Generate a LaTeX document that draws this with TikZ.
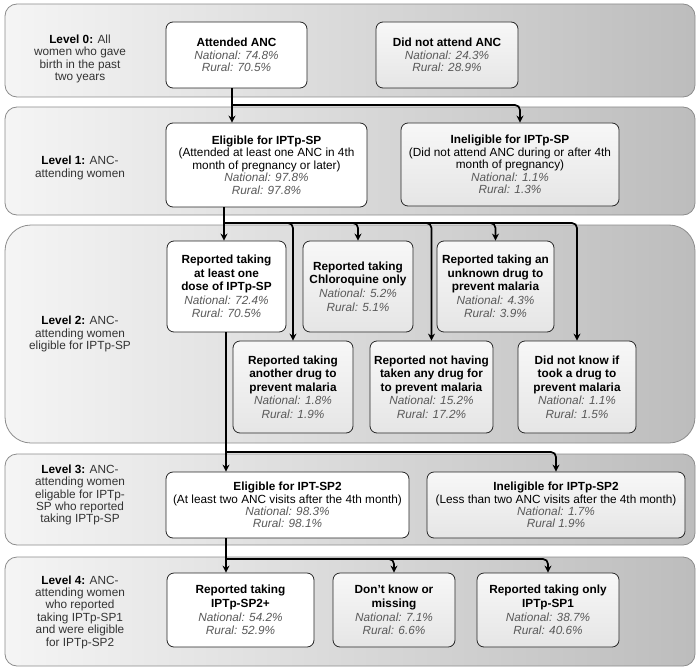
\documentclass[tikz,border=0pt]{standalone}
\usepackage{fontspec}
\setmainfont{Liberation Sans}
\usetikzlibrary{arrows.meta}
\newcommand{\nat}[1]{\textcolor{black!65}{\itshape #1}}

\begin{document}
\begin{tikzpicture}[x=1pt,y=-1pt,
	every node/.style={ font=\fontsize{11.8}{12.4}\selectfont },
	band/.style={ draw=black!45, line width=0.8pt, rounded corners=12pt, left color=black!4, right color=black!26, minimum width=690pt },
	lvl/.style={ align=center, text=black!80 },
	box/.style={ draw=black!85, line width=0.8pt, rounded corners=7pt, fill=white, align=center, inner sep=1pt },
	boxg/.style={ box, top color=black!3, bottom color=black!10 },
	tall/.style={ font=\fontsize{11.8}{13.6}\selectfont },
	flow/.style={ line width=1.7pt, rounded corners=5pt, -{Stealth[length=7pt,width=7pt]} }
]
\useasboundingbox (0,0) rectangle (700,671);

% level bands
\node at (350,50.5) (lev0) [band, minimum height=93pt] {};
\node at (350,161) (lev1) [band, minimum height=108pt] {};
\node at (350,334) (lev2) [band, minimum height=218pt, rounded corners=26pt] {};
\node at (350,499.5) (lev3) [band, minimum height=91pt] {};
\node at (350,611.5) (lev4) [band, minimum height=109pt] {};

\node at (80,59) (lab0) [lvl] {\textbf{\color{black}Level 0:} All\\women who gave\\birth in the past\\two years};
\node at (80,168) (lab1) [lvl] {\textbf{\color{black}Level 1:} ANC-\\attending women};
\node at (80,334) (lab2) [lvl] {\textbf{\color{black}Level 2:} ANC-\\attending women\\eligible for IPTp-SP};
\node at (80,495) (lab3) [lvl] {\textbf{\color{black}Level 3:} ANC-\\attending women\\eligable for IPTp-\\SP who reported\\taking IPTp-SP};
\node at (80,612) (lab4) [lvl] {\textbf{\color{black}Level 4:} ANC-\\attending women\\who reported\\taking IPTp-SP1\\and were eligible\\for IPTp-SP2};

% level 0
\node at (236.5,55) (attended) [box, minimum width=141pt, minimum height=66pt] {\textbf{Attended ANC}\\\nat{National: 74.8\%}\\\nat{Rural: 70.5\%}};
\node at (447,55) (noanc) [boxg, minimum width=142pt, minimum height=66pt] {\textbf{Did not attend ANC}\\\nat{National: 24.3\%}\\\nat{Rural: 28.9\%}};

% level 1
\node at (266.5,165) (elig1) [box, minimum width=201pt, minimum height=84pt] {\textbf{Eligible for IPTp-SP}\\(Attended at least one ANC in 4th\\month of pregnancy or later)\\\nat{National: 97.8\%}\\\nat{Rural: 97.8\%}};
\node at (510,164.5) (inelig1) [boxg, minimum width=218pt, minimum height=83pt] {\textbf{Ineligible for IPTp-SP}\\(Did not attend ANC during or after 4th\\month of pregnancy)\\\nat{National: 1.1\%}\\\nat{Rural: 1.3\%}};

% level 2
\node at (226.5,286.5) (r1) [box, tall, minimum width=119pt, minimum height=91pt] {\textbf{Reported taking}\\\textbf{at least one}\\\textbf{dose of IPTp-SP}\\\nat{National: 72.4\%}\\\nat{Rural: 70.5\%}};
\node at (358,286.5) (r2) [boxg, tall, minimum width=110pt, minimum height=91pt] {\textbf{Reported taking}\\\textbf{Chloroquine only}\\\nat{National: 5.2\%}\\\nat{Rural: 5.1\%}};
\node at (495.5,286.5) (r3) [boxg, tall, minimum width=117pt, minimum height=91pt] {\textbf{Reported taking an}\\\textbf{unknown drug to}\\\textbf{prevent malaria}\\\nat{National: 4.3\%}\\\nat{Rural: 3.9\%}};
\node at (293,387) (r4) [boxg, tall, minimum width=120pt, minimum height=92pt] {\textbf{Reported taking}\\\textbf{another drug to}\\\textbf{prevent malaria}\\\nat{National: 1.8\%}\\\nat{Rural: 1.9\%}};
\node at (431.5,387) (r5) [boxg, tall, minimum width=123pt, minimum height=92pt] {\textbf{Reported not having}\\\textbf{taken any drug for}\\\textbf{to prevent malaria}\\\nat{National: 15.2\%}\\\nat{Rural: 17.2\%}};
\node at (577,387) (r6) [boxg, tall, minimum width=118pt, minimum height=92pt] {\textbf{Did not know if}\\\textbf{took a drug to}\\\textbf{prevent malaria}\\\nat{National: 1.1\%}\\\nat{Rural: 1.5\%}};

% level 3
\node at (287.5,505) (elig3) [box, minimum width=243pt, minimum height=66pt] {\textbf{Eligible for IPT-SP2}\\(At least two ANC visits after the 4th month)\\\nat{National: 98.3\%}\\\nat{Rural: 98.1\%}};
\node at (556,505) (inelig3) [boxg, minimum width=258pt, minimum height=66pt] {\textbf{Ineligible for IPTp-SP2}\\(Less than two ANC visits after the 4th month)\\\nat{National: 1.7\%}\\\nat{Rural 1.9\%}};

% level 4
\node at (240.5,610) (sp2p) [box, tall, minimum width=147pt, minimum height=74pt] {\textbf{Reported taking}\\\textbf{IPTp-SP2+}\\\nat{National: 54.2\%}\\\nat{Rural: 52.9\%}};
\node at (394,610) (dknow) [boxg, tall, minimum width=122pt, minimum height=74pt] {\textbf{Don{\char"27}t know or}\\\textbf{missing}\\\nat{National: 7.1\%}\\\nat{Rural: 6.6\%}};
\node at (548,610) (sp1) [boxg, tall, minimum width=142pt, minimum height=74pt] {\textbf{Reported taking only}\\\textbf{IPTp-SP1}\\\nat{National: 38.7\%}\\\nat{Rural: 40.6\%}};

% connectors
\coordinate (bus0) at (232,105);
\coordinate (bus1) at (224,223);
\coordinate (bus2) at (226,452);
\coordinate (bus3) at (226,559);

\draw[flow] (attended.south -| bus0) -- (elig1.north -| bus0);
\draw[flow] (bus0) -| ([xshift=10pt]inelig1.north);

\draw[flow] (elig1.south -| bus1) -- (r1.north -| bus1);
\foreach \b in {r2,r3,r4,r5,r6}
	\draw[flow] (bus1) -| (\b.north);

\draw[flow] (r1.south -| bus2) -- (elig3.north -| bus2);
\draw[flow] (bus2) -| (inelig3.north);

\draw[flow] (elig3.south -| bus3) -- (sp2p.north -| bus3);
\foreach \b in {dknow,sp1}
	\draw[flow] (bus3) -| (\b.north);

\end{tikzpicture}
\end{document}
